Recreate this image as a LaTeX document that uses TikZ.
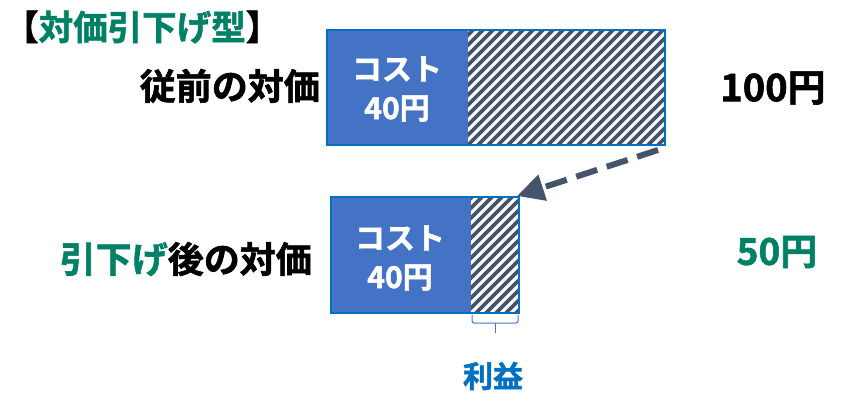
\documentclass[tikz,border=0pt]{standalone}
\usepackage{fontspec}
\setmainfont{Noto Sans CJK JP}[BoldFont={Noto Sans CJK JP Bold}, BoldFeatures={FakeBold=1.6}]
\usetikzlibrary{arrows.meta}
\definecolor{costblue}{HTML}{4472C4}
\definecolor{edgeblue}{HTML}{0070C0}
\definecolor{slate}{HTML}{44546A}
\definecolor{accgreen}{RGB}{0,128,100}
\tikzset{
  costfill/.style={fill=costblue},
  barframe/.style={draw=edgeblue, line width=2pt},
  hatchline/.style={draw=slate, line width=3.6pt},
  costtext/.style={text=white, align=center, font=\bfseries\fontsize{30}{39}\selectfont, inner sep=0pt},
  bigtext/.style={font=\bfseries\fontsize{36}{40}\selectfont, inner sep=0pt},
  pricetext/.style={font=\bfseries\fontsize{38}{40}\selectfont, inner sep=0pt},
}
\begin{document}
\begin{tikzpicture}[x=1pt,y=-1pt]
\useasboundingbox (0,0) rectangle (856,403);
% title
\node[font=\bfseries\fontsize{34.5}{38}\selectfont, anchor=west, inner sep=0pt] (title) at (4,27) {【\textcolor{accgreen}{対価引下げ型}】};
% top bar
\coordinate (b1nw) at (327,30);
\coordinate (b1se) at (665,145);
\coordinate (b1mid) at (468,145);
\fill[costblue] (b1nw) rectangle (b1mid);
\begin{scope}
  \clip (468,30) rectangle (665,145);
  \foreach \i in {0,...,33} { \draw[hatchline] ({353+\i*10},150) -- ++(125,-125); }
\end{scope}
\draw[barframe] (b1nw) rectangle (b1se);
\node[costtext] (cost1) at (397,89) {コスト\\40円};
\node[bigtext, anchor=east] (prev) at (320,86) {従前の対価};
\node[pricetext] (p100) at (773,88) {100円};
% bottom bar
\coordinate (b2nw) at (331,197);
\coordinate (b2se) at (519,313);
\coordinate (b2ne) at (519,197);
\fill[costblue] (b2nw) rectangle (471,313);
\begin{scope}
  \clip (471,197) rectangle (519,313);
  \foreach \i in {0,...,18} { \draw[hatchline] ({351+\i*10},318) -- ++(125,-125); }
\end{scope}
\draw[barframe] (b2nw) rectangle (b2se);
\node[costtext] (cost2) at (400,258) {コスト\\40円};
\node[bigtext, anchor=east] (after) at (312,259) {\textcolor{accgreen}{引下げ}後の対価};
\node[pricetext, text=accgreen, font=\bfseries\fontsize{37}{40}\selectfont] (p50) at (777,252) {50円};
% arrow
\coordinate (astart) at (658,150);
\coordinate (aend) at (517,196);
\draw[slate, line width=6pt, dash pattern=on 22pt off 10pt, -{Triangle[length=27pt,width=26pt]}] (astart) -- (aend);
% brace
\draw[costblue, line width=1pt, rounded corners=2pt] (472,315) -- (472,323) -- (518,323) -- (518,315);
\draw[costblue, line width=1pt] (495,323) -- (495,333);
\node[font=\bfseries\fontsize{30}{32}\selectfont, text=edgeblue, inner sep=0pt] (profit) at (493,376) {利益};
\end{tikzpicture}
\end{document}
